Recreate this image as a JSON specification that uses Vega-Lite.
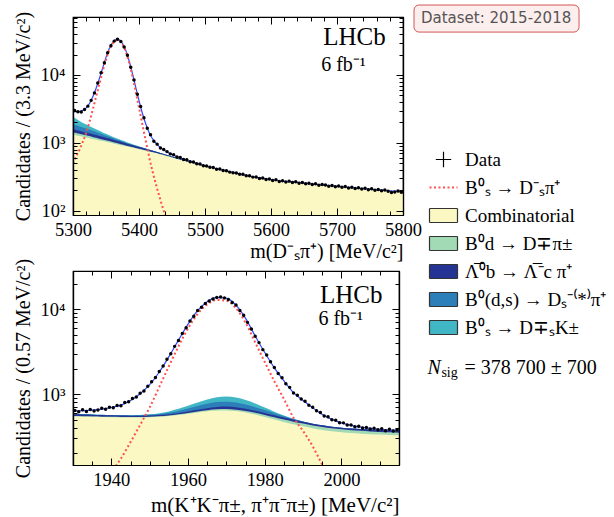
{
"$schema":"https://vega.github.io/schema/vega-lite/v6.json",
"padding":{"left":12,"top":3,"right":0,"bottom":0},
"background":"white",
"datasets":{
"topFit":[
{"m":5300,"c1":1320,"c2":1440,"c3":1600,"c4":1900,"c5":2450,"s":500,"t":2950},
{"m":5305,"c1":1290,"c2":1400,"c3":1555,"c4":1820,"c5":2250,"s":640,"t":2890},
{"m":5310,"c1":1260,"c2":1365,"c3":1510,"c4":1750,"c5":2100,"s":800,"t":2900},
{"m":5315,"c1":1230,"c2":1330,"c3":1465,"c4":1685,"c5":1970,"s":1050,"t":3020},
{"m":5320,"c1":1200,"c2":1295,"c3":1425,"c4":1625,"c5":1860,"s":1420,"t":3280},
{"m":5325,"c1":1170,"c2":1260,"c3":1385,"c4":1565,"c5":1760,"s":2050,"t":3810},
{"m":5330,"c1":1140,"c2":1225,"c3":1345,"c4":1505,"c5":1670,"s":3100,"t":4770},
{"m":5335,"c1":1115,"c2":1190,"c3":1305,"c4":1445,"c5":1585,"s":4800,"t":6385},
{"m":5340,"c1":1090,"c2":1155,"c3":1265,"c4":1385,"c5":1505,"s":7400,"t":8905},
{"m":5345,"c1":1065,"c2":1125,"c3":1230,"c4":1330,"c5":1430,"s":11300,"t":12730},
{"m":5350,"c1":1040,"c2":1095,"c3":1195,"c4":1280,"c5":1360,"s":16800,"t":18160},
{"m":5355,"c1":1015,"c2":1065,"c3":1160,"c4":1230,"c5":1295,"s":23200,"t":24495},
{"m":5360,"c1":990,"c2":1035,"c3":1125,"c4":1180,"c5":1235,"s":28800,"t":30035},
{"m":5365,"c1":965,"c2":1005,"c3":1090,"c4":1135,"c5":1180,"s":32300,"t":33480},
{"m":5370,"c1":940,"c2":975,"c3":1055,"c4":1092,"c5":1130,"s":31800,"t":32930},
{"m":5375,"c1":915,"c2":945,"c3":1020,"c4":1050,"c5":1083,"s":28000,"t":29083},
{"m":5380,"c1":890,"c2":916,"c3":987,"c4":1010,"c5":1038,"s":22000,"t":23038},
{"m":5385,"c1":870,"c2":892,"c3":958,"c4":975,"c5":995,"s":15200,"t":16195},
{"m":5390,"c1":850,"c2":868,"c3":930,"c4":943,"c5":957,"s":9600,"t":10557},
{"m":5395,"c1":830,"c2":845,"c3":902,"c4":912,"c5":922,"s":5700,"t":6622},
{"m":5400,"c1":810,"c2":822,"c3":875,"c4":882,"c5":889,"s":3300,"t":4189},
{"m":5405,"c1":790,"c2":800,"c3":849,"c4":854,"c5":858,"s":1900,"t":2758},
{"m":5410,"c1":770,"c2":779,"c3":823,"c4":826,"c5":829,"s":1100,"t":1929},
{"m":5415,"c1":750,"c2":757,"c3":797,"c4":799,"c5":801,"s":650,"t":1451},
{"m":5420,"c1":730,"c2":736,"c3":772,"c4":773,"c5":774,"s":400,"t":1174},
{"m":5425,"c1":710,"c2":714,"c3":746,"c4":747,"c5":747,"s":260,"t":1007},
{"m":5430,"c1":690,"c2":693,"c3":722,"c4":722,"c5":722,"s":175,"t":897},
{"m":5435,"c1":670,"c2":673,"c3":698,"c4":698,"c5":698,"s":120,"t":818},
{"m":5440,"c1":650,"c2":652,"c3":675,"c4":675,"c5":675,"s":85,"t":760},
{"m":5445,"c1":630,"c2":632,"c3":652,"c4":652,"c5":652,"s":62,"t":714},
{"m":5450,"c1":610,"c2":611,"c3":630,"c4":630,"c5":630,"s":46,"t":676},
{"m":5455,"c1":590,"c2":591,"c3":608,"c4":608,"c5":608,"s":35,"t":643},
{"m":5460,"c1":572,"c2":573,"c3":588,"c4":588,"c5":588,"s":27,"t":615},
{"m":5465,"c1":555,"c2":555,"c3":569,"c4":569,"c5":569,"t":590},
{"m":5470,"c1":538,"c2":538,"c3":550,"c4":550,"c5":550,"t":567},
{"m":5475,"c1":522,"c2":522,"c3":533,"c4":533,"c5":533,"t":547},
{"m":5480,"c1":506,"c2":506,"c3":516,"c4":516,"c5":516,"t":528},
{"m":5485,"c1":491,"c2":491,"c3":499,"c4":499,"c5":499,"t":509},
{"m":5490,"c1":477,"c2":477,"c3":484,"c4":484,"c5":484,"t":492},
{"m":5495,"c1":463,"c2":463,"c3":469,"c4":469,"c5":469,"t":476},
{"m":5500,"c1":450,"c2":450,"c3":455,"c4":455,"c5":455,"t":461},
{"m":5520,"c1":405,"c2":405,"c3":408,"c4":408,"c5":408,"t":412},
{"m":5540,"c1":368,"c2":368,"c3":369,"c4":369,"c5":369,"t":372},
{"m":5560,"c1":333,"c2":333,"c3":333,"c4":333,"c5":333,"t":336},
{"m":5580,"c1":306,"c2":306,"c3":306,"c4":306,"c5":306,"t":308},
{"m":5600,"c1":285,"c2":285,"c3":285,"c4":285,"c5":285,"t":287},
{"m":5620,"c1":270,"c2":270,"c3":270,"c4":270,"c5":270,"t":272},
{"m":5640,"c1":260,"c2":260,"c3":260,"c4":260,"c5":260,"t":262},
{"m":5660,"c1":248,"c2":248,"c3":248,"c4":248,"c5":248,"t":250},
{"m":5680,"c1":237,"c2":237,"c3":237,"c4":237,"c5":237,"t":239},
{"m":5700,"c1":227,"c2":227,"c3":227,"c4":227,"c5":227,"t":229},
{"m":5720,"c1":218,"c2":218,"c3":218,"c4":218,"c5":218,"t":220},
{"m":5740,"c1":210,"c2":210,"c3":210,"c4":210,"c5":210,"t":212},
{"m":5760,"c1":202,"c2":202,"c3":202,"c4":202,"c5":202,"t":204},
{"m":5780,"c1":195,"c2":195,"c3":195,"c4":195,"c5":195,"t":197},
{"m":5800,"c1":188,"c2":188,"c3":188,"c4":188,"c5":188,"t":190}
],
"topData":[
{"m":5302.5,"n":2990},{"m":5307.5,"n":2870},{"m":5312.5,"n":2850},{"m":5317.5,"n":3110},{"m":5322.5,"n":3480},
{"m":5327.5,"n":4230},{"m":5332.5,"n":5450},{"m":5337.5,"n":7620},{"m":5342.5,"n":10800},{"m":5347.5,"n":15100},
{"m":5352.5,"n":21300},{"m":5357.5,"n":26900},{"m":5362.5,"n":31500},{"m":5367.5,"n":33500},{"m":5372.5,"n":31200},
{"m":5377.5,"n":25800},{"m":5382.5,"n":19500},{"m":5387.5,"n":13000},{"m":5392.5,"n":8450},{"m":5397.5,"n":5220},
{"m":5402.5,"n":3440},{"m":5407.5,"n":2350},{"m":5412.5,"n":1640},{"m":5417.5,"n":1320},{"m":5422.5,"n":1060},
{"m":5427.5,"n":960},{"m":5432.5,"n":840},{"m":5437.5,"n":800},{"m":5442.5,"n":745},{"m":5447.5,"n":690},
{"m":5452.5,"n":668},{"m":5457.5,"n":622},{"m":5462.5,"n":610},{"m":5467.5,"n":570},{"m":5472.5,"n":566},
{"m":5477.5,"n":530},{"m":5482.5,"n":524},{"m":5487.5,"n":495},{"m":5492.5,"n":490},{"m":5497.5,"n":460},
{"m":5502.5,"n":458},{"m":5507.5,"n":440},{"m":5512.5,"n":436},{"m":5517.5,"n":410},{"m":5522.5,"n":412},
{"m":5527.5,"n":392},{"m":5532.5,"n":390},{"m":5537.5,"n":372},{"m":5542.5,"n":365},{"m":5547.5,"n":362},
{"m":5552.5,"n":346},{"m":5557.5,"n":345},{"m":5562.5,"n":328},{"m":5567.5,"n":330},{"m":5572.5,"n":314},
{"m":5577.5,"n":316},{"m":5582.5,"n":300},{"m":5587.5,"n":305},{"m":5592.5,"n":290},{"m":5597.5,"n":294},
{"m":5602.5,"n":280},{"m":5607.5,"n":288},{"m":5612.5,"n":270},{"m":5617.5,"n":278},{"m":5622.5,"n":266},
{"m":5627.5,"n":274},{"m":5632.5,"n":262},{"m":5637.5,"n":268},{"m":5642.5,"n":255},{"m":5647.5,"n":262},
{"m":5652.5,"n":250},{"m":5657.5,"n":256},{"m":5662.5,"n":244},{"m":5667.5,"n":250},{"m":5672.5,"n":238},
{"m":5677.5,"n":245},{"m":5682.5,"n":241},{"m":5687.5,"n":230},{"m":5692.5,"n":236},{"m":5697.5,"n":226},
{"m":5702.5,"n":232},{"m":5707.5,"n":222},{"m":5712.5,"n":228},{"m":5717.5,"n":217},{"m":5722.5,"n":222},
{"m":5727.5,"n":213},{"m":5732.5,"n":219},{"m":5737.5,"n":210},{"m":5742.5,"n":215},{"m":5747.5,"n":204},
{"m":5752.5,"n":211},{"m":5757.5,"n":201},{"m":5762.5,"n":207},{"m":5767.5,"n":198},{"m":5772.5,"n":203},
{"m":5777.5,"n":194},{"m":5782.5,"n":186},{"m":5787.5,"n":190},{"m":5792.5,"n":196},{"m":5797.5,"n":188}
],
"botFit":[
{"m":1930,"c1":545,"c2":551,"c3":578,"c4":580,"c5":582,"s":22,"t":630},
{"m":1932.5,"c1":542,"c2":548,"c3":575,"c4":577,"c5":579,"s":33,"t":638},
{"m":1935,"c1":539,"c2":545,"c3":571,"c4":573,"c5":575,"s":50,"t":648},
{"m":1937.5,"c1":536,"c2":542,"c3":567,"c4":569,"c5":571,"s":75,"t":665},
{"m":1940,"c1":533,"c2":539,"c3":563,"c4":565,"c5":567,"s":119,"t":695},
{"m":1942.5,"c1":531,"c2":537,"c3":559,"c4":562,"c5":564,"s":174,"t":742},
{"m":1945,"c1":530,"c2":536,"c3":557,"c4":561,"c5":564,"s":272,"t":840},
{"m":1947.5,"c1":531,"c2":537,"c3":557,"c4":563,"c5":568,"s":433,"t":1010},
{"m":1950,"c1":534,"c2":541,"c3":560,"c4":569,"c5":577,"s":698,"t":1290},
{"m":1952.5,"c1":540,"c2":548,"c3":567,"c4":581,"c5":595,"s":1215,"t":1820},
{"m":1955,"c1":550,"c2":559,"c3":579,"c4":601,"c5":625,"s":2130,"t":2760},
{"m":1957.5,"c1":566,"c2":577,"c3":599,"c4":633,"c5":670,"s":3650,"t":4320},
{"m":1960,"c1":586,"c2":600,"c3":625,"c4":675,"c5":728,"s":5950,"t":6680},
{"m":1962.5,"c1":607,"c2":624,"c3":653,"c4":723,"c5":795,"s":8810,"t":9600},
{"m":1965,"c1":627,"c2":646,"c3":681,"c4":770,"c5":862,"s":11390,"t":12250},
{"m":1967.5,"c1":640,"c2":662,"c3":704,"c4":805,"c5":920,"s":12860,"t":13780},
{"m":1970,"c1":642,"c2":666,"c3":712,"c4":812,"c5":935,"s":12580,"t":13520},
{"m":1972.5,"c1":630,"c2":655,"c3":698,"c4":795,"c5":910,"s":10250,"t":11160},
{"m":1975,"c1":605,"c2":632,"c3":670,"c4":752,"c5":850,"s":6940,"t":7790},
{"m":1977.5,"c1":573,"c2":602,"c3":636,"c4":700,"c5":775,"s":4060,"t":4835},
{"m":1980,"c1":538,"c2":568,"c3":599,"c4":648,"c5":695,"s":2390,"t":3085},
{"m":1982.5,"c1":503,"c2":533,"c3":562,"c4":594,"c5":620,"s":1415,"t":2035},
{"m":1985,"c1":470,"c2":501,"c3":528,"c4":548,"c5":560,"s":873,"t":1433},
{"m":1987.5,"c1":442,"c2":473,"c3":498,"c4":508,"c5":512,"s":526,"t":1038},
{"m":1990,"c1":418,"c2":449,"c3":473,"c4":474,"c5":475,"s":367,"t":842},
{"m":1992.5,"c1":396,"c2":427,"c3":447,"c4":448,"c5":448,"s":242,"t":690},
{"m":1995,"c1":378,"c2":409,"c3":428,"c4":428,"c5":428,"s":147,"t":575},
{"m":1997.5,"c1":365,"c2":395,"c3":413,"c4":413,"c5":413,"s":90,"t":503},
{"m":2000,"c1":355,"c2":384,"c3":402,"c4":402,"c5":402,"s":55,"t":457},
{"m":2002.5,"c1":348,"c2":376,"c3":394,"c4":394,"c5":394,"s":33,"t":427},
{"m":2005,"c1":342,"c2":369,"c3":387,"c4":387,"c5":387,"s":20,"t":407},
{"m":2007.5,"c1":337,"c2":363,"c3":382,"c4":382,"c5":382,"t":394},
{"m":2010,"c1":333,"c2":358,"c3":377,"c4":377,"c5":377,"t":385},
{"m":2012.5,"c1":330,"c2":354,"c3":373,"c4":373,"c5":373,"t":378},
{"m":2015,"c1":327,"c2":350,"c3":370,"c4":370,"c5":370,"t":374}
],
"botData":[
{"m":1930.5,"n":640},{"m":1931.5,"n":618},{"m":1932.5,"n":652},{"m":1933.5,"n":625},{"m":1934.5,"n":660},
{"m":1935.5,"n":632},{"m":1936.5,"n":648},{"m":1937.5,"n":680},{"m":1938.5,"n":662},{"m":1939.5,"n":700},
{"m":1940.5,"n":690},{"m":1941.5,"n":735},{"m":1942.5,"n":730},{"m":1943.5,"n":795},{"m":1944.5,"n":810},
{"m":1945.5,"n":885},{"m":1946.5,"n":925},{"m":1947.5,"n":1025},{"m":1948.5,"n":1090},{"m":1949.5,"n":1240},
{"m":1950.5,"n":1400},{"m":1951.5,"n":1570},{"m":1952.5,"n":1840},{"m":1953.5,"n":2140},{"m":1954.5,"n":2570},
{"m":1955.5,"n":2990},{"m":1956.5,"n":3650},{"m":1957.5,"n":4290},{"m":1958.5,"n":5180},{"m":1959.5,"n":6060},
{"m":1960.5,"n":7250},{"m":1961.5,"n":8260},{"m":1962.5,"n":9650},{"m":1963.5,"n":10550},{"m":1964.5,"n":11700},
{"m":1965.5,"n":12500},{"m":1966.5,"n":13200},{"m":1967.5,"n":13750},{"m":1968.5,"n":13900},{"m":1969.5,"n":13600},
{"m":1970.5,"n":13050},{"m":1971.5,"n":12000},{"m":1972.5,"n":11200},{"m":1973.5,"n":9680},{"m":1974.5,"n":8480},
{"m":1975.5,"n":7000},{"m":1976.5,"n":5850},{"m":1977.5,"n":4800},{"m":1978.5,"n":4040},{"m":1979.5,"n":3340},
{"m":1980.5,"n":2890},{"m":1981.5,"n":2400},{"m":1982.5,"n":2060},{"m":1983.5,"n":1750},{"m":1984.5,"n":1560},
{"m":1985.5,"n":1320},{"m":1986.5,"n":1200},{"m":1987.5,"n":1030},{"m":1988.5,"n":970},{"m":1989.5,"n":875},
{"m":1990.5,"n":822},{"m":1991.5,"n":740},{"m":1992.5,"n":700},{"m":1993.5,"n":635},{"m":1994.5,"n":606},
{"m":1995.5,"n":552},{"m":1996.5,"n":540},{"m":1997.5,"n":498},{"m":1998.5,"n":492},{"m":1999.5,"n":460},
{"m":2000.5,"n":458},{"m":2001.5,"n":432},{"m":2002.5,"n":433},{"m":2003.5,"n":412},{"m":2004.5,"n":418},
{"m":2005.5,"n":398},{"m":2006.5,"n":405},{"m":2007.5,"n":388},{"m":2008.5,"n":396},{"m":2009.5,"n":380},
{"m":2010.5,"n":390},{"m":2011.5,"n":370},{"m":2012.5,"n":385},{"m":2013.5,"n":368},{"m":2014.5,"n":380}
]
},
"vconcat":[
{
"width":330,"height":198,
"layer":[
{"data":{"name":"topFit"},"mark":{"type":"area","clip":true,"interpolate":"monotone"},
 "encoding":{
  "x":{"field":"m","type":"quantitative","scale":{"domain":[5300,5800],"nice":false,"zero":false},
   "axis":{"orient":"bottom","zindex":1,"values":[5300,5400,5500,5600,5700,5800],"format":"d","tickSize":-7,"labelPadding":12,"title":"m(D⁻ₛπ⁺) [MeV/c²]","titleAnchor":"end","titlePadding":3}},
  "y":{"field":"c5","type":"quantitative","scale":{"type":"log","domain":[87,71300],"nice":false},
   "axis":{"orient":"left","zindex":1,"values":[100,1000,10000],"labelExpr":"datum.value == 100 ? '10²' : datum.value == 1000 ? '10³' : '10⁴'","tickSize":-7,"labelPadding":15,"title":"Candidates  /  (3.3 MeV/c²)","titlePadding":7}},
  "y2":{"datum":1},
  "color":{"datum":"DsK","type":"nominal","scale":{"domain":["Data","sig","Comb","Bd","Lb","Bds","DsK"],"range":["black","#ff5050","#fcf8c4","#a1dab4","#253494","#2c7fb8","#41b6c4"]},
   "legend":{"title":null,"orient":"none","legendX":361,"legendY":133,"padding":0,"rowPadding":8,"symbolSize":784,"labelOffset":12,"labelLimit":300,"labelFont":"Liberation Serif","labelFontSize":19,"labelColor":"black",
    "labelExpr":"datum.value == 'Data' ? 'Data' : datum.value == 'sig' ? 'B⁰ₛ → D⁻ₛπ⁺' : datum.value == 'Comb' ? 'Combinatorial' : datum.value == 'Bd' ? 'B⁰d → D∓π±' : datum.value == 'Lb' ? 'Λ̅⁰b → Λ̅⁻c π⁺' : datum.value == 'Bds' ? 'B⁰(d,s) → Dₛ⁻⁽*⁾π⁺' : 'B⁰ₛ → D∓ₛK±'",
    "encode":{"symbols":{"update":{
     "shape":{"signal":"datum.value == 'Data' ? 'M-0.55,0H0.55M0,-0.55V0.55' : datum.value == 'sig' ? 'M-1,0H1' : 'M-1,-0.5H1V0.5H-1Z'"},
     "fill":{"signal":"datum.value == 'Comb' ? '#fcf8c4' : datum.value == 'Bd' ? '#a1dab4' : datum.value == 'Lb' ? '#253494' : datum.value == 'Bds' ? '#2c7fb8' : datum.value == 'DsK' ? '#41b6c4' : 'transparent'"},
     "stroke":{"signal":"datum.value == 'sig' ? '#ff5050' : datum.value == 'Data' ? 'black' : '#333333'"},
     "strokeDash":{"signal":"datum.value == 'sig' ? [2,2.5] : [1,0]"},
     "strokeWidth":{"signal":"datum.value == 'sig' ? 2 : 1.2"},
     "opacity":{"value":1}
    }}}}}
 }},
{"data":{"name":"topFit"},"mark":{"type":"area","clip":true,"interpolate":"monotone"},
 "encoding":{
  "x":{"field":"m","type":"quantitative","axis":{"orient":"top","zindex":1,"values":[5300,5400,5500,5600,5700,5800],"labels":false,"title":null,"tickSize":-7}},
  "y":{"field":"c4","type":"quantitative","axis":{"orient":"right","zindex":1,"values":[100,1000,10000],"labels":false,"title":null,"tickSize":-7}},
  "y2":{"datum":1},"color":{"datum":"Bds","type":"nominal"}}},
{"data":{"name":"topFit"},"mark":{"type":"area","clip":true,"interpolate":"monotone"},
 "encoding":{
  "x":{"field":"m","type":"quantitative","axis":{"orient":"bottom","zindex":1,"values":[5320,5340,5360,5380,5420,5440,5460,5480,5520,5540,5560,5580,5620,5640,5660,5680,5720,5740,5760,5780],"labels":false,"title":null,"tickSize":-4}},
  "y":{"field":"c3","type":"quantitative","axis":{"orient":"left","zindex":1,"values":[200,300,400,500,600,700,800,900,2000,3000,4000,5000,6000,7000,8000,9000,20000,30000,40000,50000,60000,70000],"labels":false,"title":null,"tickSize":-4}},
  "y2":{"datum":1},"color":{"datum":"Lb","type":"nominal"}}},
{"data":{"name":"topFit"},"mark":{"type":"area","clip":true,"interpolate":"monotone"},
 "encoding":{
  "x":{"field":"m","type":"quantitative","axis":{"orient":"top","zindex":1,"values":[5320,5340,5360,5380,5420,5440,5460,5480,5520,5540,5560,5580,5620,5640,5660,5680,5720,5740,5760,5780],"labels":false,"title":null,"tickSize":-4}},
  "y":{"field":"c2","type":"quantitative","axis":{"orient":"right","zindex":1,"values":[200,300,400,500,600,700,800,900,2000,3000,4000,5000,6000,7000,8000,9000,20000,30000,40000,50000,60000,70000],"labels":false,"title":null,"tickSize":-4}},
  "y2":{"datum":1},"color":{"datum":"Bd","type":"nominal"}}},
{"data":{"name":"topFit"},"mark":{"type":"area","clip":true,"interpolate":"monotone"},
 "encoding":{"x":{"field":"m","type":"quantitative","axis":null},"y":{"field":"c1","type":"quantitative","axis":null},"y2":{"datum":1},"color":{"datum":"Comb","type":"nominal"}}},
{"data":{"name":"topFit"},"mark":{"type":"line","clip":true,"interpolate":"monotone","color":"#3048ff","strokeWidth":1.2},
 "encoding":{"x":{"field":"m","type":"quantitative","axis":null},"y":{"field":"t","type":"quantitative","axis":null}}},
{"data":{"name":"topFit"},"mark":{"type":"line","clip":true,"interpolate":"monotone","color":"#ff5050","strokeWidth":2,"strokeDash":[2,2.5]},
 "encoding":{"x":{"field":"m","type":"quantitative","axis":null},"y":{"field":"s","type":"quantitative","axis":null}}},
{"data":{"name":"topData"},"mark":{"type":"point","filled":true,"size":12,"color":"black","opacity":1,"clip":true},
 "encoding":{"x":{"field":"m","type":"quantitative","axis":null},"y":{"field":"n","type":"quantitative","axis":null}}},
{"data":{"values":[{}]},"mark":{"type":"text","text":"LHCb","font":"Liberation Serif","fontSize":25,"align":"left","baseline":"middle","color":"black"},
 "encoding":{"x":{"datum":5679,"type":"quantitative","axis":null},"y":{"datum":36200,"type":"quantitative","axis":null}}},
{"data":{"values":[{}]},"mark":{"type":"text","text":"6 fb⁻¹","font":"Liberation Serif","fontSize":20,"align":"left","baseline":"middle","color":"black"},
 "encoding":{"x":{"datum":5676,"type":"quantitative","axis":null},"y":{"datum":14000,"type":"quantitative","axis":null}}},
{"data":{"values":[{}]},"mark":{"type":"rect","fill":"#fdeeee","stroke":"#d05858","strokeWidth":1,"cornerRadius":5},
 "encoding":{"x":{"datum":5816.7,"type":"quantitative","axis":null},"x2":{"datum":6066.7},"y":{"datum":107000,"type":"quantitative","axis":null},"y2":{"datum":42800}}},
{"data":{"values":[{}]},"mark":{"type":"text","text":"Dataset: 2015-2018","font":"DejaVu Sans","fontSize":15,"align":"center","baseline":"middle","color":"#555555"},
 "encoding":{"x":{"datum":5941,"type":"quantitative","axis":null},"y":{"datum":67800,"type":"quantitative","axis":null}}}
],
"resolve":{"axis":{"x":"independent","y":"independent"}}
},
{
"width":326,"height":194,
"layer":[
{"data":{"name":"botFit"},"mark":{"type":"area","clip":true,"interpolate":"monotone"},
 "encoding":{
  "x":{"field":"m","type":"quantitative","scale":{"domain":[1930,2015],"nice":false,"zero":false},
   "axis":{"orient":"bottom","zindex":1,"values":[1940,1960,1980,2000],"format":"d","tickSize":-7,"labelPadding":12,"title":"m(K⁺K⁻π±, π⁺π⁻π±) [MeV/c²]","titleFontSize":21,"titleAnchor":"end","titlePadding":6}},
  "y":{"field":"c5","type":"quantitative","scale":{"type":"log","domain":[146,28200],"nice":false},
   "axis":{"orient":"left","zindex":1,"values":[1000,10000],"labelExpr":"datum.value == 1000 ? '10³' : '10⁴'","tickSize":-7,"labelPadding":15,"title":"Candidates  /  (0.57 MeV/c²)","titlePadding":7}},
  "y2":{"datum":1},
  "color":{"datum":"DsK","type":"nominal"}
 }},
{"data":{"name":"botFit"},"mark":{"type":"area","clip":true,"interpolate":"monotone"},
 "encoding":{
  "x":{"field":"m","type":"quantitative","axis":{"orient":"top","zindex":1,"values":[1940,1960,1980,2000],"labels":false,"title":null,"tickSize":-7}},
  "y":{"field":"c4","type":"quantitative","axis":{"orient":"right","zindex":1,"values":[1000,10000],"labels":false,"title":null,"tickSize":-7}},
  "y2":{"datum":1},"color":{"datum":"Bds","type":"nominal"}}},
{"data":{"name":"botFit"},"mark":{"type":"area","clip":true,"interpolate":"monotone"},
 "encoding":{
  "x":{"field":"m","type":"quantitative","axis":{"orient":"bottom","zindex":1,"values":[1935,1945,1950,1955,1965,1970,1975,1985,1990,1995,2005,2010],"labels":false,"title":null,"tickSize":-4}},
  "y":{"field":"c3","type":"quantitative","axis":{"orient":"left","zindex":1,"values":[200,300,400,500,600,700,800,900,2000,3000,4000,5000,6000,7000,8000,9000,20000],"labels":false,"title":null,"tickSize":-4}},
  "y2":{"datum":1},"color":{"datum":"Lb","type":"nominal"}}},
{"data":{"name":"botFit"},"mark":{"type":"area","clip":true,"interpolate":"monotone"},
 "encoding":{
  "x":{"field":"m","type":"quantitative","axis":{"orient":"top","zindex":1,"values":[1935,1945,1950,1955,1965,1970,1975,1985,1990,1995,2005,2010],"labels":false,"title":null,"tickSize":-4}},
  "y":{"field":"c2","type":"quantitative","axis":{"orient":"right","zindex":1,"values":[200,300,400,500,600,700,800,900,2000,3000,4000,5000,6000,7000,8000,9000,20000],"labels":false,"title":null,"tickSize":-4}},
  "y2":{"datum":1},"color":{"datum":"Bd","type":"nominal"}}},
{"data":{"name":"botFit"},"mark":{"type":"area","clip":true,"interpolate":"monotone"},
 "encoding":{"x":{"field":"m","type":"quantitative","axis":null},"y":{"field":"c1","type":"quantitative","axis":null},"y2":{"datum":1},"color":{"datum":"Comb","type":"nominal"}}},
{"data":{"name":"botFit"},"mark":{"type":"line","clip":true,"interpolate":"monotone","color":"#3048ff","strokeWidth":1.2},
 "encoding":{"x":{"field":"m","type":"quantitative","axis":null},"y":{"field":"t","type":"quantitative","axis":null}}},
{"data":{"name":"botFit"},"mark":{"type":"line","clip":true,"interpolate":"monotone","color":"#ff5050","strokeWidth":2,"strokeDash":[2,2.5]},
 "encoding":{"x":{"field":"m","type":"quantitative","axis":null},"y":{"field":"s","type":"quantitative","axis":null}}},
{"data":{"name":"botData"},"mark":{"type":"point","filled":true,"size":12,"color":"black","opacity":1,"clip":true},
 "encoding":{"x":{"field":"m","type":"quantitative","axis":null},"y":{"field":"n","type":"quantitative","axis":null}}},
{"data":{"values":[{}]},"mark":{"type":"text","text":"LHCb","font":"Liberation Serif","fontSize":25,"align":"left","baseline":"middle","color":"black"},
 "encoding":{"x":{"datum":1994.4,"type":"quantitative","axis":null},"y":{"datum":14600,"type":"quantitative","axis":null}}},
{"data":{"values":[{}]},"mark":{"type":"text","text":"6 fb⁻¹","font":"Liberation Serif","fontSize":20,"align":"left","baseline":"middle","color":"black"},
 "encoding":{"x":{"datum":1994,"type":"quantitative","axis":null},"y":{"datum":7620,"type":"quantitative","axis":null}}},
{"data":{"values":[{}]},"mark":{"type":"text","text":"N","font":"Liberation Serif","fontStyle":"italic","fontSize":20,"align":"left","baseline":"middle","color":"black"},
 "encoding":{"x":{"datum":2022.4,"type":"quantitative","axis":null},"y":{"datum":2022,"type":"quantitative","axis":null}}},
{"data":{"values":[{}]},"mark":{"type":"text","text":"sig","font":"Liberation Serif","fontSize":14,"align":"left","baseline":"middle","color":"black","dx":14,"dy":5},
 "encoding":{"x":{"datum":2022.4,"type":"quantitative","axis":null},"y":{"datum":2022,"type":"quantitative","axis":null}}},
{"data":{"values":[{}]},"mark":{"type":"text","text":"= 378 700 ± 700","font":"Liberation Serif","fontSize":20,"align":"left","baseline":"middle","color":"black","dx":37},
 "encoding":{"x":{"datum":2022.4,"type":"quantitative","axis":null},"y":{"datum":2022,"type":"quantitative","axis":null}}}
],
"resolve":{"axis":{"x":"independent","y":"independent"}}
}
],
"spacing":56,
"bounds":"flush",
"resolve":{"scale":{"color":"shared"},"legend":{"color":"shared"}},
"config":{
 "view":{"stroke":"black","strokeWidth":1.2},
 "axis":{"labelFont":"Liberation Serif","labelFontSize":18.5,"labelColor":"black","titleFont":"Liberation Serif","titleFontSize":20,"titleColor":"black","titleFontWeight":"normal","domainColor":"black","domainWidth":1.2,"tickColor":"black","tickWidth":1,"grid":false,"labelFlush":false,"labelOverlap":false}
}
}
